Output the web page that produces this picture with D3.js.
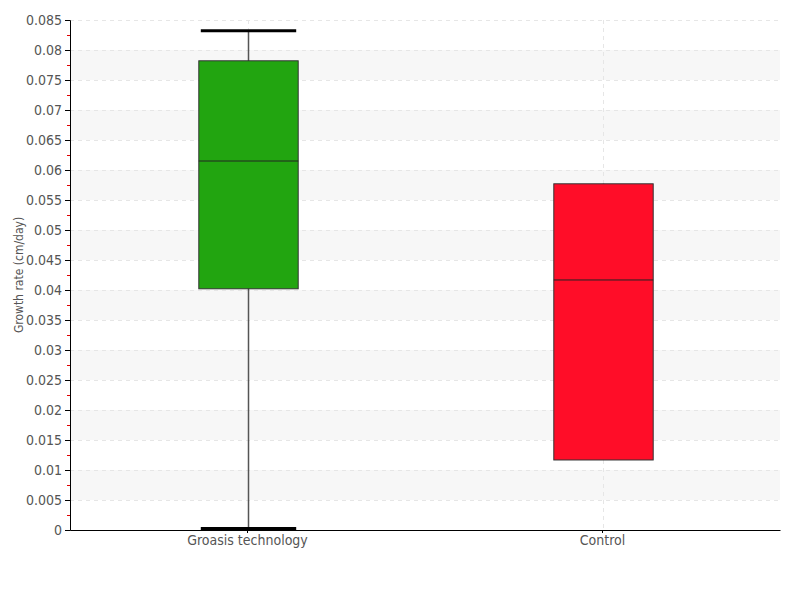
<!DOCTYPE html>
<html>
<head>
<meta charset="utf-8">
<script src="https://cdn.jsdelivr.net/npm/d3@7"></script>
<style>
body { margin: 0; background: #fff; }
text { font-family: "DejaVu Sans", sans-serif; font-stretch: condensed; }
</style>
</head>
<body>
<div id="chart"></div>
<script>
var categories = ["Groasis technology", "Control"];
var lowValues = [0.0, 0.01167];
var q1Values = [0.0402, 0.01167];
var medianValues = [0.0615, 0.04167];
var q3Values = [0.0782, 0.0577];
var highValues = [0.0832, 0.0577];
var boxColors = ["#22a510", "#ff0d28"];
var yTicks = [0, 0.005, 0.01, 0.015, 0.02, 0.025, 0.03, 0.035, 0.04, 0.045, 0.05, 0.055, 0.06, 0.065, 0.07, 0.075, 0.08, 0.085];

var width = 800, height = 600;
var margin = {top: 20, right: 20, bottom: 70, left: 70};
var fontCss = "font-family: 'DejaVu Sans', sans-serif; font-stretch: condensed;";

var svg = d3.select("#chart").append("svg")
    .attr("width", width)
    .attr("height", height);

var x = d3.scaleBand()
    .domain(categories)
    .range([margin.left, width - margin.right]);

var y = d3.scaleLinear()
    .domain([0, 0.085])
    .range([height - margin.bottom, margin.top]);

// alternating bands
for (var i = 1; i < yTicks.length - 1; i += 2) {
    svg.append("rect")
        .attr("x", margin.left)
        .attr("y", y(yTicks[i + 1]))
        .attr("width", width - margin.right - margin.left)
        .attr("height", y(yTicks[i]) - y(yTicks[i + 1]))
        .attr("fill", "#f7f7f7");
}

// horizontal grid
svg.selectAll(".hgrid")
    .data(yTicks.slice(1))
    .enter().append("line")
    .attr("x1", margin.left)
    .attr("x2", width - margin.right)
    .attr("y1", function(d) { return Math.round(y(d)) + 0.5; })
    .attr("y2", function(d) { return Math.round(y(d)) + 0.5; })
    .attr("stroke", "#e6e6e6")
    .attr("stroke-dasharray", "4,4");

// vertical grid
svg.selectAll(".vgrid")
    .data(categories)
    .enter().append("line")
    .attr("x1", function(d) { return Math.round(x(d) + x.bandwidth() / 2) + 0.5; })
    .attr("x2", function(d) { return Math.round(x(d) + x.bandwidth() / 2) + 0.5; })
    .attr("y1", margin.top)
    .attr("y2", height - margin.bottom)
    .attr("stroke", "#e6e6e6")
    .attr("stroke-dasharray", "4,4");

var boxW = x.bandwidth() * 0.28;

categories.forEach(function(c, i) {
    var cx = Math.round(x(c) + x.bandwidth() / 2) + 0.5;
    var g = svg.append("g");
    // whisker line
    g.append("line")
        .attr("x1", cx).attr("x2", cx)
        .attr("y1", y(lowValues[i])).attr("y2", y(highValues[i]))
        .attr("stroke", "#555")
        .attr("stroke-width", 1.5);
    // caps
    if (highValues[i] > q3Values[i]) {
        g.append("line")
            .attr("x1", cx - boxW / 2 + 2).attr("x2", cx + boxW / 2 - 2)
            .attr("y1", y(highValues[i])).attr("y2", y(highValues[i]))
            .attr("stroke", "#000").attr("stroke-width", 3);
    }
    if (lowValues[i] < q1Values[i]) {
        g.append("line")
            .attr("x1", cx - boxW / 2 + 2).attr("x2", cx + boxW / 2 - 2)
            .attr("y1", y(lowValues[i]) - 1.5).attr("y2", y(lowValues[i]) - 1.5)
            .attr("stroke", "#000").attr("stroke-width", 3);
    }
    // box
    g.append("rect")
        .attr("x", cx - boxW / 2)
        .attr("y", y(q3Values[i]))
        .attr("width", boxW)
        .attr("height", y(q1Values[i]) - y(q3Values[i]))
        .attr("fill", boxColors[i])
        .attr("stroke", "#333")
        .attr("stroke-width", 1);
    // median
    g.append("line")
        .attr("x1", cx - boxW / 2).attr("x2", cx + boxW / 2)
        .attr("y1", y(medianValues[i])).attr("y2", y(medianValues[i]))
        .attr("stroke", "#222")
        .attr("stroke-width", 1);
});

// minor ticks
var minor = [];
for (var k = 0; k < yTicks.length - 1; k++) minor.push((yTicks[k] + yTicks[k + 1]) / 2);
svg.selectAll(".minor")
    .data(minor)
    .enter().append("line")
    .attr("x1", margin.left - 3).attr("x2", margin.left)
    .attr("y1", function(d) { return Math.round(y(d)) + 0.5; })
    .attr("y2", function(d) { return Math.round(y(d)) + 0.5; })
    .attr("stroke", "#e00000");

// y axis
var yAxis = svg.append("g")
    .attr("transform", "translate(" + margin.left + ",0)")
    .call(d3.axisLeft(y).tickValues(yTicks).tickSize(5).tickPadding(3).tickFormat(function(d) { return d3.format("")(+d.toFixed(3)); }));
yAxis.select(".domain").attr("stroke", "#000");
yAxis.selectAll("text").attr("font-size", 14).attr("fill", "#555").attr("style", fontCss);

// x axis
var xAxis = svg.append("g")
    .attr("transform", "translate(0," + (height - margin.bottom) + ")")
    .call(d3.axisBottom(x).tickSize(3).tickSizeOuter(0).tickPadding(2));
xAxis.select(".domain").attr("stroke", "#000");
xAxis.selectAll("text").attr("font-size", 14).attr("fill", "#555").attr("style", fontCss);

svg.append("text")
    .attr("transform", "translate(23," + ((margin.top + height - margin.bottom) / 2) + ") rotate(-90)")
    .attr("text-anchor", "middle")
    .attr("font-size", 12)
    .attr("fill", "#555")
    .text("Growth rate (cm/day)");
</script>
</body>
</html>
